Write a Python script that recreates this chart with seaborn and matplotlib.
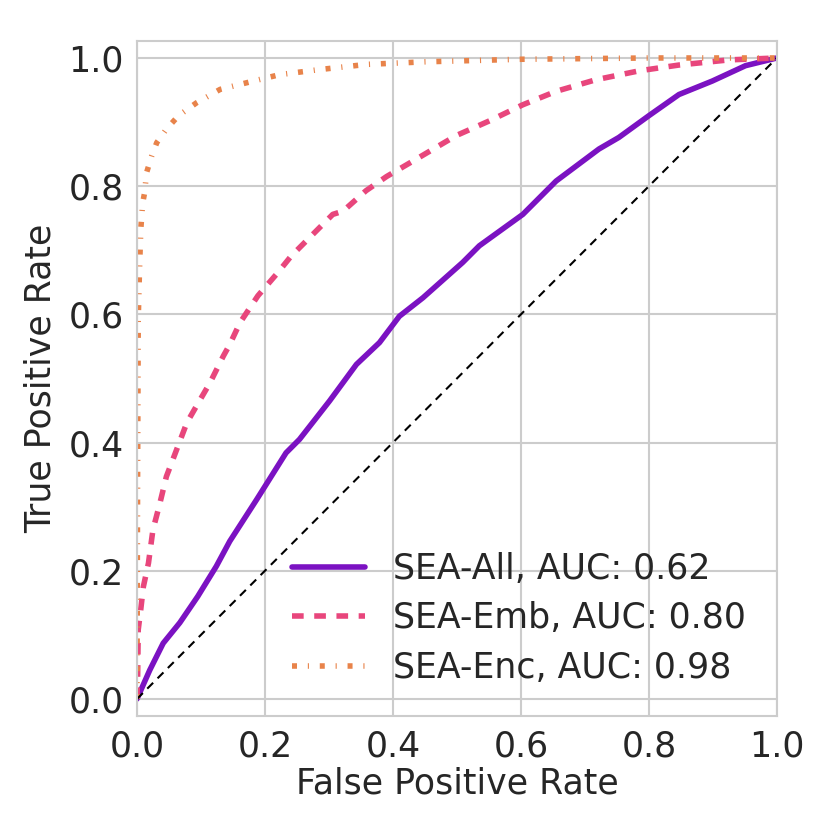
import matplotlib
matplotlib.use("Agg")
import matplotlib.pyplot as plt
import seaborn as sns
import pandas as pd

# ROC points
all_fpr = [0, 0.02, 0.041, 0.067, 0.095, 0.124, 0.145, 0.187, 0.233, 0.254, 0.301,
           0.343, 0.379, 0.41, 0.447, 0.509, 0.535, 0.603, 0.655, 0.722, 0.753,
           0.8, 0.847, 0.899, 0.951, 1.0]
all_tpr = [0, 0.045, 0.087, 0.119, 0.16, 0.207, 0.246, 0.311, 0.384, 0.405, 0.465,
           0.522, 0.556, 0.597, 0.626, 0.681, 0.707, 0.756, 0.808, 0.858, 0.876,
           0.91, 0.943, 0.964, 0.988, 1.0]

emb_fpr = [0, 0.001, 0.002, 0.006, 0.010, 0.018, 0.025, 0.036, 0.046, 0.062, 0.078,
           0.093, 0.114, 0.135, 0.145, 0.161, 0.189, 0.22, 0.241, 0.275, 0.306,
           0.322, 0.358, 0.39, 0.431, 0.499, 0.551, 0.603, 0.655, 0.717, 0.785,
           0.847, 0.925, 1.0]
emb_tpr = [0, 0.03, 0.108, 0.14, 0.175, 0.212, 0.264, 0.306, 0.347, 0.389, 0.431,
           0.457, 0.493, 0.535, 0.553, 0.587, 0.629, 0.665, 0.691, 0.725, 0.756,
           0.761, 0.793, 0.815, 0.839, 0.879, 0.902, 0.927, 0.948, 0.966, 0.98,
           0.989, 0.997, 1.0]

enc_fpr = [0, 0.001, 0.002, 0.004, 0.006, 0.009, 0.012, 0.015, 0.023, 0.031, 0.046,
           0.065, 0.093, 0.13, 0.182, 0.223, 0.286, 0.359, 0.45, 0.6, 0.8, 1.0]
enc_tpr = [0, 0.35, 0.592, 0.67, 0.733, 0.774, 0.79, 0.821, 0.847, 0.868, 0.889,
           0.91, 0.93, 0.951, 0.964, 0.974, 0.982, 0.99, 0.994, 0.998, 1.0, 1.0]

labels = ["SEA-All, AUC: 0.62", "SEA-Emb, AUC: 0.80", "SEA-Enc, AUC: 0.98"]
colors = ["#7b12c2", "#e8467c", "#e8834a"]
dash_styles = [None, (2.1, 1.9), (0.9, 1.95, 0.2, 1.95)]

sns.set_style("whitegrid", {"grid.color": "#cccccc", "axes.edgecolor": "#cccccc"})
plt.rcParams["font.family"] = ["DejaVu Sans"]
plt.rcParams["grid.linewidth"] = 1.5
plt.rcParams["axes.linewidth"] = 1.5

fig = plt.figure(figsize=(8.3, 8.3), dpi=100)
ax = fig.add_axes([0.165, 0.137, 0.771, 0.814])

curves = [(all_fpr, all_tpr), (emb_fpr, emb_tpr), (enc_fpr, enc_tpr)]
for (fpr, tpr), lab, col, ds in zip(curves, labels, colors, dash_styles):
    df = pd.DataFrame({"fpr": fpr, "tpr": tpr})
    sns.lineplot(data=df, x="fpr", y="tpr", ax=ax, color=col, lw=4,
                 label=lab, sort=False, estimator=None)
    line = ax.get_lines()[-1]
    line.set_solid_capstyle("round")
    if ds is not None:
        line.set_dashes(ds)

ax.plot([0, 1], [0, 1], color="black", lw=1.5, dashes=(4, 3))

ax.set_xlim(0, 1)
ax.set_ylim(-0.027, 1.027)
ax.set_xticks([0, 0.2, 0.4, 0.6, 0.8, 1.0])
ax.set_yticks([0, 0.2, 0.4, 0.6, 0.8, 1.0])
ax.tick_params(labelsize=25, colors="#262626", pad=6)
ax.set_xlabel("False Positive Rate", fontsize=25, color="#262626", labelpad=2)
ax.set_ylabel("True Positive Rate", fontsize=25, color="#262626", labelpad=8)

leg = ax.legend(loc="lower right", fontsize=25, frameon=False,
                handlelength=2.1, labelspacing=0.45, borderaxespad=0.5)
for t in leg.get_texts():
    t.set_color("#262626")

fig.savefig("out.png", dpi=100)
